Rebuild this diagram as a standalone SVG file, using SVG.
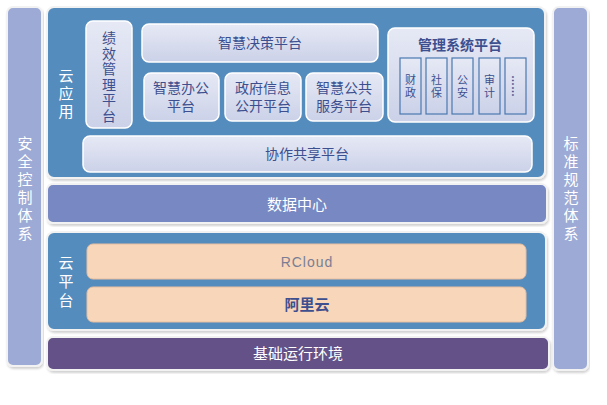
<svg xmlns="http://www.w3.org/2000/svg" width="607" height="405" viewBox="0 0 607 405" lang="zh-CN" xml:lang="zh-CN">
<defs>
<linearGradient id="lg" x1="0" y1="0" x2="0" y2="1"><stop offset="0" stop-color="#E6E9F5"/><stop offset="1" stop-color="#CBD1E8"/></linearGradient>
<filter id="sh" x="-5%" y="-5%" width="110%" height="115%"><feDropShadow dx="1" dy="2" stdDeviation="1" flood-color="#000" flood-opacity="0.18"/></filter>
</defs>
<style>
text{font-family:"Liberation Sans","Noto Sans CJK SC",sans-serif;text-anchor:middle;dominant-baseline:central}
.panel{stroke:#F2F2F2;stroke-width:2;filter:url(#sh)}
.lb{fill:url(#lg);stroke:#FFFFFF;stroke-width:1.5}
.sb{fill:url(#lg);stroke:#4A78B0;stroke-width:1.2}
.dt{fill:#3D4F8E;font-size:14px}
.wt{fill:#FFFFFF;font-size:15px}
.st{fill:#3D4F8E;font-size:11px}
.peach{fill:#F7D6BA;stroke:#E8BE9E;stroke-width:1}
</style>
<rect width="607" height="405" fill="#FFFFFF"/>
<g id="security">
<rect class="panel" x="7" y="7" width="35" height="359" rx="6" fill="#9CAAD5"/>
<text class="wt"><tspan x="25" y="143">安</tspan><tspan x="25" y="161">全</tspan><tspan x="25" y="179">控</tspan><tspan x="25" y="197">制</tspan><tspan x="25" y="215">体</tspan><tspan x="25" y="233">系</tspan></text>
</g>
<g id="standard">
<rect class="panel" x="553" y="7" width="35" height="363" rx="6" fill="#9CAAD5"/>
<text class="wt"><tspan x="571" y="143">标</tspan><tspan x="571" y="161">准</tspan><tspan x="571" y="179">规</tspan><tspan x="571" y="197">范</tspan><tspan x="571" y="215">体</tspan><tspan x="571" y="233">系</tspan></text>
</g>
<g id="cloud-app">
<rect class="panel" x="47" y="7" width="498" height="171" rx="7" fill="#548CBE"/>
<text class="wt"><tspan x="66" y="75">云</tspan><tspan x="66" y="93">应</tspan><tspan x="66" y="111">用</tspan></text>
</g>
<g id="perf">
<rect class="lb" x="86" y="21" width="46" height="107" rx="7"/>
<text class="dt" font-size="13.5"><tspan x="109" y="38">绩</tspan><tspan x="109" y="53.5">效</tspan><tspan x="109" y="69">管</tspan><tspan x="109" y="84.5">理</tspan><tspan x="109" y="100">平</tspan><tspan x="109" y="115.5">台</tspan></text>
</g>
<g id="decision">
<rect class="lb" x="142" y="24" width="236" height="38" rx="7"/>
<text class="dt" x="260" y="43">智慧决策平台</text>
</g>
<g id="office">
<rect class="lb" x="144" y="73" width="75" height="48" rx="7"/>
<text class="dt"><tspan x="181" y="88">智慧办公</tspan><tspan x="181" y="106">平台</tspan></text>
</g>
<g id="gov">
<rect class="lb" x="225" y="73" width="76" height="48" rx="7"/>
<text class="dt"><tspan x="263" y="88">政府信息</tspan><tspan x="263" y="106">公开平台</tspan></text>
</g>
<g id="public">
<rect class="lb" x="306" y="73" width="77" height="48" rx="7"/>
<text class="dt"><tspan x="344" y="88">智慧公共</tspan><tspan x="344" y="106">服务平台</tspan></text>
</g>
<g id="mgmt">
<rect class="lb" x="388" y="28" width="146" height="94" rx="7"/>
<text class="dt" x="460" y="45" font-size="15" font-weight="bold">管理系统平台</text>
</g>
<g id="finance">
<rect class="sb" x="400" y="58" width="21" height="56"/>
<text class="st"><tspan x="410.5" y="80">财</tspan><tspan x="410.5" y="93">政</tspan></text>
</g>
<g id="social">
<rect class="sb" x="426" y="58" width="21" height="56"/>
<text class="st"><tspan x="436.5" y="80">社</tspan><tspan x="436.5" y="93">保</tspan></text>
</g>
<g id="police">
<rect class="sb" x="452" y="58" width="21" height="56"/>
<text class="st"><tspan x="462.5" y="80">公</tspan><tspan x="462.5" y="93">安</tspan></text>
</g>
<g id="audit">
<rect class="sb" x="479" y="58" width="21" height="56"/>
<text class="st"><tspan x="489.5" y="80">审</tspan><tspan x="489.5" y="93">计</tspan></text>
</g>
<g id="more">
<rect class="sb" x="505" y="58" width="21" height="56"/>
<text class="st" transform="translate(515.5,86) rotate(90)" x="0" y="0" font-size="13" font-weight="bold">……</text>
</g>
<g id="share">
<rect class="lb" x="83" y="136" width="449" height="36" rx="7"/>
<text class="dt" x="307" y="154">协作共享平台</text>
</g>
<g id="data">
<rect class="panel" x="47" y="184" width="500" height="39" rx="6" fill="#7788C2"/>
<text class="wt" x="297" y="204">数据中心</text>
</g>
<g id="cloud-platform">
<rect class="panel" x="47" y="232" width="499" height="98" rx="7" fill="#548CBE"/>
<text class="wt"><tspan x="66" y="262">云</tspan><tspan x="66" y="281">平</tspan><tspan x="66" y="300">台</tspan></text>
</g>
<g id="rcloud">
<rect class="peach" x="87" y="244" width="439" height="35" rx="6"/>
<text x="307" y="262" fill="#7A7E94" font-size="14" font-family="Roboto,'Liberation Sans',sans-serif" letter-spacing="1">RCloud</text>
</g>
<g id="aliyun">
<rect class="peach" x="87" y="287" width="439" height="35" rx="6"/>
<text x="307" y="304" fill="#3D4F8E" font-size="15" font-weight="bold">阿里云</text>
</g>
<g id="base">
<rect class="panel" x="47" y="337" width="502" height="33" rx="6" fill="#645187"/>
<text class="wt" x="298" y="353">基础运行环境</text>
</g>
<g id="connectors"></g>
</svg>
